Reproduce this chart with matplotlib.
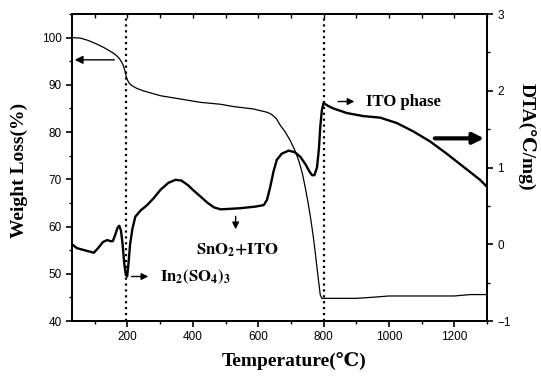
import numpy as np
import matplotlib
matplotlib.use('Agg')
import matplotlib.pyplot as plt
from matplotlib.ticker import MultipleLocator

## DATA
# weight loss (TGA), left axis
tga_temp = [30, 56, 80, 107, 125, 138, 155, 168, 178, 186, 192, 196, 200, 206, 214, 230,
            250, 301, 362, 423, 484, 525, 585, 627, 640, 655, 668, 683, 698, 712, 724,
            735, 744, 752, 760, 768, 775, 783, 790, 795, 850, 900, 944, 1000, 1100, 1200,
            1250, 1300]
tga_weight = [100.0, 99.9, 99.4, 98.6, 98.0, 97.5, 96.8, 96.1, 95.3, 94.3, 93.0, 91.8,
              91.0, 90.3, 89.8, 89.2, 88.7, 87.7, 87.0, 86.3, 85.9, 85.4, 84.9, 84.2,
              83.8, 82.9, 81.4, 80.0, 78.2, 76.2, 74.0, 71.3, 68.3, 65.3, 62.0, 58.2,
              54.3, 49.5, 45.5, 44.8, 44.8, 44.8, 45.0, 45.3, 45.3, 45.3, 45.6, 45.6]

# DTA, right axis
dta_temp = [30, 45, 70, 97, 110, 125, 138, 148, 155, 163, 170, 175, 180, 185, 190, 195,
            199, 203, 208, 215, 224, 240, 260, 280, 301, 325, 347, 365, 385, 405, 424,
            445, 465, 485, 506, 546, 590, 617, 627, 637, 647, 657, 672, 693, 712, 729,
            745, 758, 765, 772, 780, 786, 790, 795, 800, 815, 830, 871, 922, 973, 1024,
            1075, 1126, 1177, 1228, 1279, 1300]
dta_value = [0.0, -0.05, -0.08, -0.11, -0.05, 0.03, 0.055, 0.04, 0.04, 0.13, 0.22, 0.24,
             0.18, 0.0, -0.25, -0.40, -0.42, -0.25, 0.0, 0.2, 0.36, 0.44, 0.51, 0.60,
             0.71, 0.80, 0.84, 0.83, 0.77, 0.69, 0.62, 0.54, 0.48, 0.455, 0.46, 0.47,
             0.49, 0.51, 0.58, 0.75, 0.95, 1.10, 1.18, 1.22, 1.20, 1.14, 1.04, 0.94,
             0.90, 0.90, 1.00, 1.25, 1.53, 1.75, 1.84, 1.80, 1.77, 1.71, 1.67, 1.65,
             1.58, 1.47, 1.34, 1.18, 1.01, 0.84, 0.75]

event_temps = [195, 800]

x_ticks = [200, 400, 600, 800, 1000, 1200]


def main():
    plt.rcParams['font.family'] = ['Liberation Sans', 'DejaVu Sans']
    plt.rcParams['mathtext.fontset'] = 'stix'
    serif = ['Liberation Serif', 'DejaVu Serif']

    fig = plt.figure(figsize=(5.41, 3.79), dpi=100)
    ax = fig.add_axes([0.133, 0.153, 0.767, 0.810])
    ax2 = ax.twinx()

    ax.plot(tga_temp, tga_weight, color='k', lw=0.9)
    ax2.plot(dta_temp, dta_value, color='k', lw=1.7)

    for t in event_temps:
        ax.axvline(t, color='k', ls=':', lw=1.6)

    ax.set_xlim(30, 1300)
    ax.set_ylim(40, 105)
    ax2.set_ylim(-1, 3)

    ax.set_xticks(x_ticks)
    ax.xaxis.set_minor_locator(MultipleLocator(100))
    ax.set_yticks([40, 50, 60, 70, 80, 90, 100])
    ax.yaxis.set_minor_locator(MultipleLocator(5))
    ax2.set_yticks([-1, 0, 1, 2, 3])
    ax2.yaxis.set_minor_locator(MultipleLocator(0.5))

    ax.tick_params(axis='both', which='major', direction='out', length=4, width=1.2,
                   labelsize=8.5)
    ax.tick_params(axis='both', which='minor', direction='out', length=2.5, width=1)
    ax2.tick_params(axis='y', which='major', direction='out', length=4, width=1.2,
                    labelsize=8.5)
    ax2.tick_params(axis='y', which='minor', direction='out', length=2.5, width=1)
    for a in (ax, ax2):
        for s in a.spines.values():
            s.set_linewidth(1.3)

    # top axis: inward ticks, no labels
    top = ax.secondary_xaxis('top')
    top.xaxis.set_major_locator(MultipleLocator(100))
    top.tick_params(axis='x', direction='in', length=3, width=1, labeltop=False)
    top.spines['top'].set_linewidth(1.3)

    ax.set_xlabel('Temperature(\u2103)', family=serif, fontweight='bold', fontsize=14)
    ax.xaxis.set_label_coords(0.535, -0.10)
    ax.set_ylabel('Weight Loss(%)', family=serif, fontweight='bold', fontsize=14)
    ax.yaxis.set_label_coords(-0.105, 0.49)
    ax2.set_ylabel('DTA(\u2103/mg)', family=serif, fontweight='bold', fontsize=14,
                   rotation=-90, va='bottom')
    ax2.yaxis.set_label_coords(1.075, 0.6)

    # arrows pointing at the axes
    ax.annotate('', xy=(30, 95.3), xytext=(168, 95.3),
                arrowprops=dict(arrowstyle='-|>', color='k', lw=1.0, mutation_scale=12))
    ax2.annotate('', xy=(1300, 1.38), xytext=(1132, 1.38),
                 arrowprops=dict(arrowstyle='-|>', color='k', lw=3.0, mutation_scale=16))

    # peak labels
    ax2.annotate('', xy=(272, -0.42), xytext=(204, -0.42),
                 arrowprops=dict(arrowstyle='-|>', color='k', lw=1.0, mutation_scale=10))
    ax2.text(298, -0.42, r'$\mathbf{In_2(SO_4)_3}$', fontsize=12, va='center', ha='left')

    ax2.annotate('', xy=(531, 0.16), xytext=(531, 0.40),
                 arrowprops=dict(arrowstyle='-|>', color='k', lw=1.0, mutation_scale=10))
    ax2.text(535, -0.08, r'$\mathbf{SnO_2{+}ITO}$', fontsize=12, va='center', ha='center')

    ax2.annotate('', xy=(903, 1.86), xytext=(836, 1.86),
                 arrowprops=dict(arrowstyle='-|>', color='k', lw=1.0, mutation_scale=10))
    ax2.text(930, 1.86, 'ITO phase', family=serif, fontweight='bold', fontsize=12,
             va='center', ha='left')

    fig.savefig('out.png', dpi=100)


if __name__ == '__main__':
    main()
